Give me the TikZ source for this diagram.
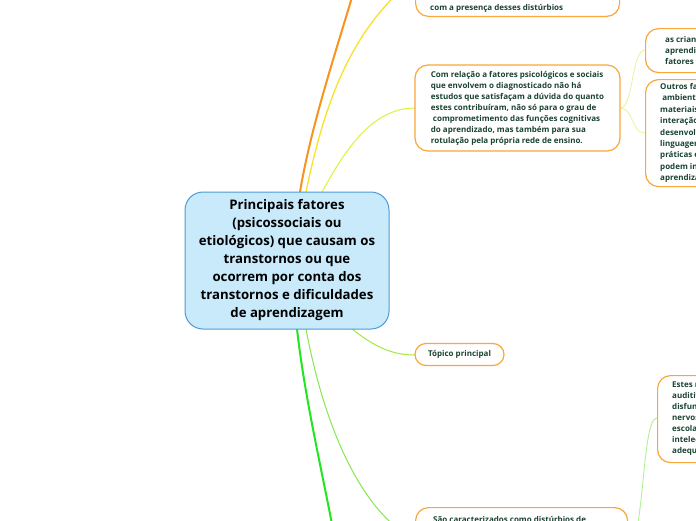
\documentclass[tikz,border=0pt]{standalone}
\usepackage{fontspec}
\setmainfont{Open Sans}
\definecolor{cfill}{HTML}{C8EAFB}
\definecolor{cborder}{HTML}{4D9AD6}
\definecolor{obox}{HTML}{F9A63A}
\definecolor{txt}{HTML}{1B4332}
\definecolor{corange}{HTML}{F7931E}
\definecolor{cyellow}{HTML}{F8E22A}
\definecolor{cyg}{HTML}{DDF23A}
\definecolor{clight}{HTML}{E6F59A}
\definecolor{ctopic}{HTML}{A2EA3C}
\definecolor{cbright}{HTML}{22E61E}
\definecolor{cgreen}{HTML}{86E84E}
\definecolor{cpale}{HTML}{A8F08A}
\tikzset{
  central/.style={draw=cborder, line width=1pt, fill=cfill, rounded corners=18pt,
    minimum width=204pt, minimum height=137pt, align=center, inner sep=0pt,
    font=\bfseries\fontsize{13.2}{18}\selectfont, text=black},
  obx/.style={draw=obox, line width=1.2pt, fill=white, rounded corners=13pt, inner sep=0pt},
  smalltxt/.style={font=\bfseries\fontsize{8}{11}\selectfont, text=txt, align=left, inner sep=0pt},
  conn/.style={line width=1pt},
}
\begin{document}
\begin{tikzpicture}[x=1pt,y=-1pt]
\useasboundingbox (0,0) rectangle (696,520);
\clip (0,0) rectangle (696,520);
\fill[white] (0,0) rectangle (696,520);

% connectors drawn first
\coordinate (topA) at (360,-30);
\coordinate (topB) at (415,-22);
\coordinate (botA) at (336,545);
\coordinate (botB) at (415,540);
\coordinate (botR) at (627,548);

\draw[conn, corange, line width=2pt] (300,192) .. controls (312,120) and (340,40) .. (topA);
\draw[conn, cyellow, line width=1.3pt] (306,192) .. controls (325,100) and (352,28) .. (topB);
\draw[conn, cyg] (322,192) .. controls (345,150) and (372,108) .. (415,108);
\draw[conn, ctopic] (352,329) .. controls (375,347) and (392,355) .. (415,355);
\draw[conn, cbright, line width=2pt] (297,329) .. controls (305,400) and (322,470) .. (botA);
\draw[conn, cgreen] (306,329) .. controls (325,430) and (362,512) .. (botB);
\draw[conn, clight, line width=0.8pt] (620,108) .. controls (634,108) and (631,50) .. (645,50);
\draw[conn, clight, line width=0.8pt] (620,108) .. controls (634,108) and (631,133) .. (645,133);
\draw[conn, cpale, line width=0.8pt] (botR) .. controls (645,548) and (641,418) .. (657,418);

% central node
\node[central] (c) at (287,260.5) {Principais fatores\\(psicossociais ou\\etiológicos) que causam os\\transtornos ou que\\ocorrem por conta dos\\transtornos e dificuldades\\de aprendizagem};

% top box
\node[obx, minimum width=204pt, minimum height=60pt, anchor=south west] (tb) at (415,17) {};
\node[smalltxt, anchor=base west] (tbt) at (430,10) {com a presença desses distúrbios};

% box 2
\node[obx, minimum width=205pt, minimum height=86pt] (b2) at (517.5,108) {};
\node[smalltxt] (b2t) at (517.5,108.5) {Com relação a fatores psicológicos e sociais\\que envolvem o diagnosticado não há\\estudos que satisfaçam a dúvida do quanto\\estes contribuíram, não só para o grau de\\\ comprometimento das funções cognitivas\\do aprendizado, mas também para sua\\rotulação pela própria rede de ensino.};

% box A
\node[obx, minimum width=150pt, minimum height=44pt, anchor=north west] (ba) at (645,28) {};
\node[smalltxt, anchor=west] (bat) at (665,50) {as crianças com dificuldades de\\aprendizagem podem ter\\fatores emocionais};

% box B
\node[obx, minimum width=150pt, minimum height=107pt, anchor=north west] (bb) at (645,79) {};
\node[smalltxt, anchor=west, font=\bfseries\fontsize{8}{11.4}\selectfont] (bbt) at (660,133) {Outros fatores\\\ ambientais como\\materiais escolares,\\interação social e\\desenvolvimento da\\linguagem e\\práticas educativas\\podem influenciar na\\aprendizagem.};

% box C
\node[obx, minimum width=150pt, minimum height=87pt, anchor=north west] (bc) at (657,375) {};
\node[smalltxt, anchor=west] (bct) at (672,418.5) {Estes não são causados por\\auditivos, visuais ou motores\\disfunções do sistema\\nervoso central, problemas\\escolares, deficiência\\intelectual ou falta de ensino\\adequado.};

% topico principal
\node[obx, rounded corners=11pt, minimum width=89pt, minimum height=22pt, font=\bfseries\fontsize{8}{11}\selectfont, text=txt] (tp) at (459.5,354.5) {Tópico principal};

% bottom box
\node[obx, minimum width=212pt, minimum height=60pt, anchor=north west] (bt) at (415,507) {};
\node[smalltxt, anchor=base west] (btt) at (433,522) {São caracterizados como distúrbios de};
\end{tikzpicture}
\end{document}
